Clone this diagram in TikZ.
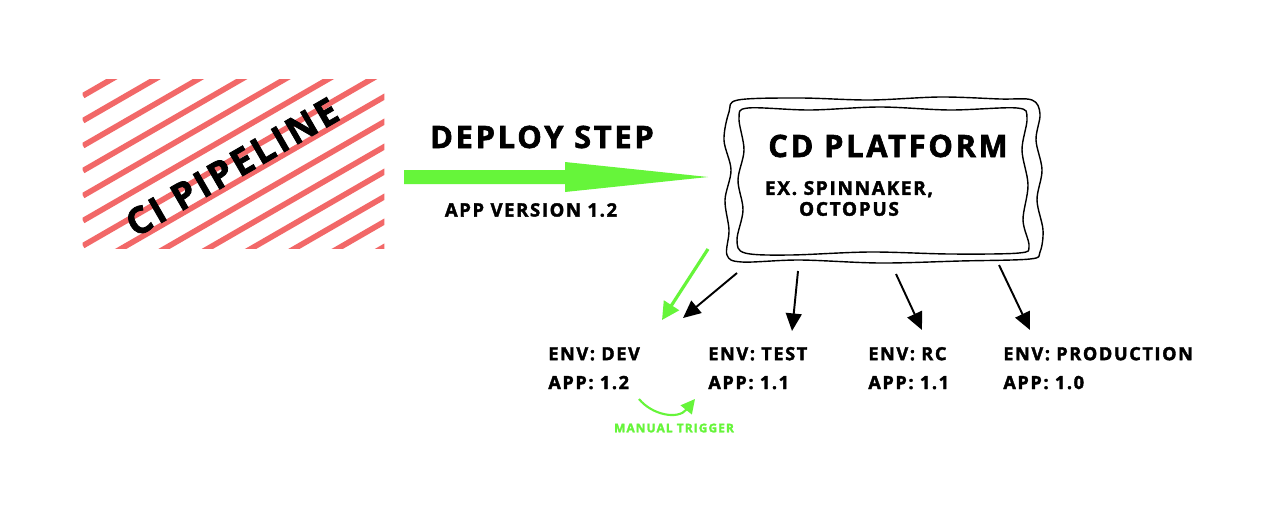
\documentclass[tikz,border=0pt]{standalone}
\usepackage{fontspec}
\setmainfont{Open Sans}[LetterSpace=9, BoldFeatures={FakeBold=2}]
\usetikzlibrary{positioning, arrows.meta, calc}
\definecolor{stripered}{RGB}{242,104,104}
\definecolor{deploygreen}{RGB}{102,245,58}

\begin{document}
\begin{tikzpicture}[
  x=0.02cm, y=-0.02cm,
  >=Stealth,
  title/.style={font=\fontsize{17.5}{21}\selectfont\bfseries, inner sep=0},
  sublbl/.style={font=\fontsize{10.5}{13}\selectfont\bfseries, inner sep=0},
  cdsub/.style={font=\fontsize{10.8}{11.9}\selectfont\bfseries, align=center, inner sep=0},
  envlbl/.style={font=\fontsize{10.3}{16.4}\selectfont\bfseries,
    align=left, anchor=base west, inner sep=0},
  triglbl/.style={font=\fontsize{6.8}{8}\selectfont\bfseries,
    text=deploygreen, inner sep=0},
  feed/.style={line width=1.1pt, -{Triangle[length=10pt, width=9pt]}},
  greenfeed/.style={feed, line width=1.8pt, draw=deploygreen,
    -{Triangle[length=10pt, width=10pt]}},
  wobbly/.style={line width=0.8pt},
]

% ---- page ----
\fill[white] (0,0) rectangle (1280,531);
\useasboundingbox (0,0) rectangle (1280,531);

% =====================================================
% CI PIPELINE (striped block)
% =====================================================
\node[minimum width=6.02cm, minimum height=3.36cm, inner sep=0] (ci) at (233.5,164) {};
\begin{scope}
  \clip (ci.north west) rectangle (ci.south east);
  \foreach \c in {0,...,14}
    \draw[stripered, line width=3.2pt] (83,95.7+25*\c) -- ++(420,-242.5);
\end{scope}
\node[title, font=\fontsize{21}{24}\selectfont\bfseries, rotate=30] (citext)
  at (232,167) {CI PIPELINE};

% =====================================================
% DEPLOY STEP (big green arrow)
% =====================================================
\node[title] (deploy) at (542,137) {DEPLOY STEP};
\fill[deploygreen] (404,170) -- (565,170) -- (565,162) -- (708,177)
  -- (565,192) -- (565,184) -- (404,184) -- cycle;
\node[sublbl] (appver) at (531,210) {APP VERSION 1.2};

% =====================================================
% CD PLATFORM (hand-drawn double frame)
% =====================================================
\node[minimum width=6.32cm, minimum height=3.28cm, inner sep=0] (cd) at (884,180) {};
\draw[wobbly] plot[smooth cycle, tension=0.55] coordinates {
  (738,100) (800,98) (870,100) (940,97) (1000,99) (1032,100)
  (1040,114) (1036,140) (1042,170) (1037,200) (1043,230) (1040,252)
  (1030,259) (960,261) (880,263) (800,260) (742,262) (727,255)
  (729,230) (725,200) (731,170) (724,140) (729,112)};
\draw[wobbly] plot[smooth cycle, tension=0.55] coordinates {
  (748,108) (810,110) (880,107) (950,110) (1017,108) (1027,118)
  (1022,150) (1028,185) (1023,220) (1029,246) (1019,253) (950,254)
  (870,252) (790,255) (745,253) (737,240) (743,210) (738,180)
  (744,150) (739,118)};
\node[title] (cdtitle) at (888,146) {CD PLATFORM};
\node[cdsub] (cdtools) at (849,198.5) {EX. SPINNAKER,\\OCTOPUS};

% =====================================================
% ENVIRONMENTS
% =====================================================
\node[envlbl] (dev)  at (548,389)  {ENV: DEV\\APP: 1.2};
\node[envlbl] (test) at (708,389)  {ENV: TEST\\APP: 1.1};
\node[envlbl] (rc)   at (868,389)  {ENV: RC\\APP: 1.1};
\node[envlbl] (prod) at (1003,389) {ENV: PRODUCTION\\APP: 1.0};

% ---- fan-out from the platform ----
\coordinate (outg) at (708,249);  \coordinate (ing) at (662,320);
\coordinate (outa) at (737,273);  \coordinate (ina) at (683,318);
\coordinate (outb) at (798,271);  \coordinate (inb) at (792,331);
\coordinate (outc) at (896,274);  \coordinate (inc) at (922,330);
\coordinate (outd) at (999,265);  \coordinate (ind) at (1030,330);

\draw[greenfeed] (outg) -- (ing);
\draw[feed] (outa) -- (ina);
\draw[feed] (outb) -- (inb);
\draw[feed] (outc) -- (inc);
\draw[feed] (outd) -- (ind);

% ---- manual promotion dev -> test ----
\coordinate (trigfrom) at (639,399);
\coordinate (trigto) at (695,399);
\draw[deploygreen, line width=1.2pt, -{Triangle[length=8pt, width=8pt]}]
  (trigfrom) .. controls (652,415) and (678,420) .. (trigto);
\node[triglbl] (trig) at (674,428) {MANUAL TRIGGER};

\end{tikzpicture}
\end{document}
